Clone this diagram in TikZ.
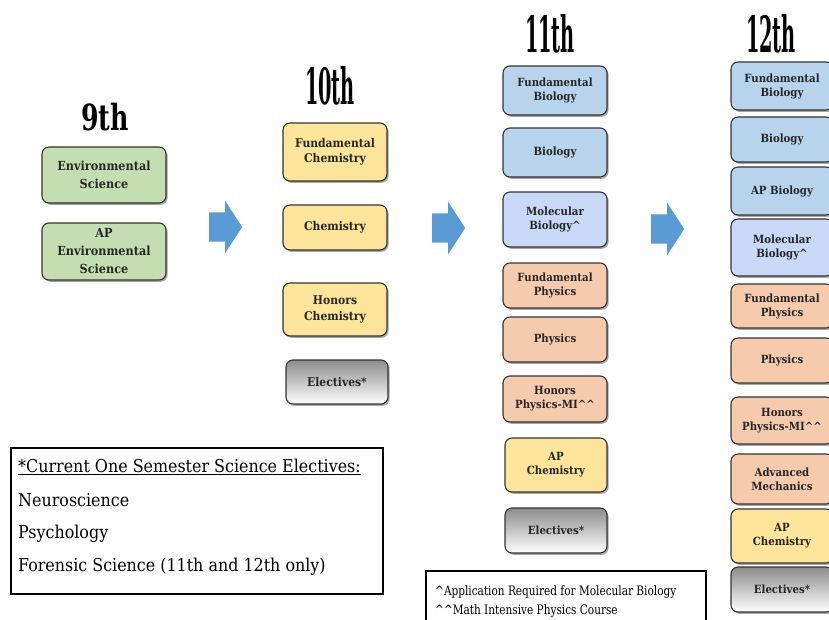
\documentclass[tikz,border=0pt]{standalone}
\usepackage{fontspec}
\setmainfont{DejaVu Serif Condensed}
\usetikzlibrary{shapes.arrows,shadows}

\definecolor{envgreen}{HTML}{C4DEB1}
\definecolor{chemyellow}{HTML}{FCE49A}
\definecolor{bioblue}{HTML}{B8D3EC}
\definecolor{molblue}{HTML}{C8D8F6}
\definecolor{physpeach}{HTML}{F6CBAD}
\definecolor{arrowblue}{HTML}{5B9BD5}
\definecolor{boxtext}{HTML}{262626}

\newcommand{\gradelabel}[3]{\scalebox{#2}[1]{\fontsize{#1}{#1}\selectfont\bfseries #3}}

\tikzset{
  course/.style={draw=black!80, line width=1.1pt, rounded corners=7pt,
    align=center, inner sep=1pt, text=boxtext,
    drop shadow={shadow xshift=1.6pt, shadow yshift=-1.8pt, fill=black, opacity=0.35}},
  wh/.style 2 args={minimum width=#1, minimum height=#2},
  greenbox/.style={course, fill=envgreen, font=\fontsize{12.5}{18}\selectfont\bfseries},
  chembox/.style={course, fill=chemyellow},
  biobox/.style={course, fill=bioblue},
  molbox/.style={course, fill=molblue},
  physbox/.style={course, fill=physpeach},
  electbox/.style={course, top color=black!45, bottom color=white},
  col10/.style={font=\fontsize{12}{15.5}\selectfont\bfseries},
  col11/.style={font=\fontsize{11.3}{14}\selectfont\bfseries},
  col12/.style={font=\fontsize{11.3}{14}\selectfont\bfseries},
  nextyear/.style={single arrow, fill=arrowblue, draw=none,
    inner xsep=0pt, inner ysep=14.5pt,
    minimum width=52, minimum height=33, single arrow head extend=11.5,
    single arrow tip angle=114, single arrow head indent=0, anchor=tail},
  keybox/.style={draw=black, line width=2pt, anchor=north west, inner sep=0pt},
}

\begin{document}
\begin{tikzpicture}[x=1pt, y=-1pt]

  \useasboundingbox (0,0) rectangle (829,620);
  \clip (0,0) rectangle (829,620);

  % grade headings
  \node (g9)  at (105,117) {\gradelabel{36}{0.78}{9th}};
  \node (g10) at (330,86)  {\gradelabel{50}{0.43}{10th}};
  \node (g11) at (550,34)  {\gradelabel{50}{0.43}{11th}};
  \node (g12) at (771,34)  {\gradelabel{50}{0.43}{12th}};

  % 9th grade
  \node[greenbox, wh={124}{56}] (env)   at (104,175)   {Environmental\\Science};
  \node[greenbox, wh={124}{57}] (apenv) at (104,251.5) {AP\\Environmental\\Science};

  % 10th grade
  \node[chembox, col10, wh={104}{58}] (fchem10) at (335,152)   {Fundamental\\Chemistry};
  \node[chembox, col10, wh={104}{45}] (chem10)  at (335,227.5) {Chemistry};
  \node[chembox, col10, wh={104}{53}] (hchem10) at (335,309.5) {Honors\\Chemistry};
  \node[electbox, col10, wh={102}{44}] (elect10) at (337,382)  {Electives*};

  % 11th grade
  \node[biobox,  col11, wh={104}{49}] (fbio11)   at (555,90.5)  {Fundamental\\Biology};
  \node[biobox,  col11, wh={104}{49}] (bio11)    at (555,152.5) {Biology};
  \node[molbox,  col11, wh={104}{55}] (molbio11) at (555,219.5) {Molecular\\Biology\^{}};
  \node[physbox, col11, wh={104}{45}] (fphys11)  at (555,285.5) {Fundamental\\Physics};
  \node[physbox, col11, wh={104}{45}] (phys11)   at (555,339.5) {Physics};
  \node[physbox, col11, wh={104}{46}] (hphys11)  at (555,399)   {Honors\\Physics-MI\^{}\^{}};
  \node[chembox, col11, wh={102}{54}] (apchem11) at (556,465)   {AP\\Chemistry};
  \node[electbox, col11, wh={102}{45}] (elect11) at (556,530.5) {Electives*};

  % 12th grade (runs off the right edge)
  \node[biobox,  col12, wh={102}{48}] (fbio12)   at (782,86)    {Fundamental\\Biology};
  \node[biobox,  col12, wh={102}{45}] (bio12)    at (782,139.5) {Biology};
  \node[biobox,  col12, wh={102}{48}] (apbio12)  at (782,191)   {AP Biology};
  \node[molbox,  col12, wh={102}{57}] (molbio12) at (782,247.5) {Molecular\\Biology\^{}};
  \node[physbox, col12, wh={102}{44}] (fphys12)  at (782,306)   {Fundamental\\Physics};
  \node[physbox, col12, wh={102}{45}] (phys12)   at (782,360.5) {Physics};
  \node[physbox, col12, wh={102}{47}] (hphys12)  at (782,420.5) {Honors\\Physics-MI\^{}\^{}};
  \node[physbox, col12, wh={102}{50}] (advmech12) at (782,479)  {Advanced\\Mechanics};
  \node[chembox, col12, wh={102}{54}] (apchem12) at (782,536)   {AP\\Chemistry};
  \node[electbox, col12, wh={102}{45}] (elect12) at (782,589.5) {Electives*};

  % block arrows between the years
  \node[nextyear] (arr1) at (209,227) {};
  \node[nextyear] (arr2) at (432,228) {};
  \node[nextyear] (arr3) at (651,229) {};

  % electives key
  \node[keybox, minimum width=372, minimum height=146] (electkey) at (10,447) {};
  \begin{scope}[every node/.style={anchor=west, inner sep=0pt, font=\fontsize{17.7}{20}\selectfont}]
    \node (key1) at (18,467) {\underline{*Current One Semester Science Electives:}};
    \node (key2) at (18,500) {Neuroscience};
    \node (key3) at (18,534) {Psychology};
    \node (key4) at (18,567) {Forensic Science (11th and 12th only)};
  \end{scope}

  % footnote key
  \node[keybox, minimum width=280, minimum height=70] (notekey) at (425,570) {};
  \begin{scope}[every node/.style={anchor=west, inner sep=0pt, font=\fontsize{13}{15}\selectfont}]
    \node (note1) at (435,592) {\scalebox{0.9}[1]{\^{}Application Required for Molecular Biology}};
    \node (note2) at (435,611) {\scalebox{0.9}[1]{\^{}\^{}Math Intensive Physics Course}};
  \end{scope}

\end{tikzpicture}
\end{document}
